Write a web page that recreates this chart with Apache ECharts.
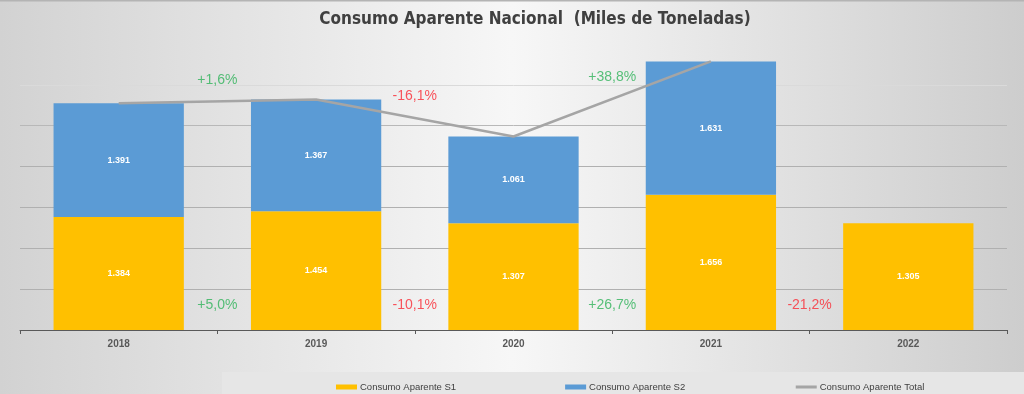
<!DOCTYPE html>
<html>
<head>
<meta charset="utf-8">
<script src="https://cdn.jsdelivr.net/npm/echarts@6/dist/echarts.min.js"></script>
<style>html,body{margin:0;padding:0;}#c{width:1024px;height:394px;}</style>
</head>
<body>
<div id="c"></div>
<script>
const categories = ['2018', '2019', '2020', '2021', '2022'];
const consumoS1 = [1384, 1454, 1307, 1656, 1305];
const consumoS2 = [1391, 1367, 1061, 1631, null];
const consumoTotal = [2776, 2821, 2368, 3287, null];
const growthTotalLabels = ['+1,6%', '-16,1%', '+38,8%'];
const growthS1Labels = ['+5,0%', '-10,1%', '+26,7%', '-21,2%'];

const fmt = v => (v == null ? '' : v.toLocaleString('de-DE'));
const GREEN = '#2fb35a', RED = '#fa2a35';
const colorFor = s => (s.charAt(0) === '-' ? RED : GREEN);

// annotation placement (between categories, in data units)
const topLevels = [3060, 2860, 3100];
const topAnno = growthTotalLabels.map((t, i) => ({ value: [i + 1, topLevels[i]], label: { color: colorFor(t), formatter: t } }));
const botAnno = growthS1Labels.map((t, i) => ({ value: [i + 1, 300], label: { color: colorFor(t), formatter: t } }));

const chart = echarts.init(document.getElementById('c'), null, { renderer: 'canvas' });
const option = {
  animation: false,
  backgroundColor: {
    type: 'linear', x: 0, y: 0, x2: 1, y2: 0,
    colorStops: [{ offset: 0, color: '#d2d2d2' }, { offset: 0.5, color: '#f7f7f7' }, { offset: 1, color: '#cdcdcd' }]
  },
  graphic: [
    { type: 'rect', z: -10, shape: { x: 222, y: 372, width: 802, height: 22 }, style: { fill: '#e6e6e6' } },
    { type: 'rect', z: -10, shape: { x: 0, y: 0, width: 1024, height: 1.5 }, style: { fill: '#b4b4b4' } }
  ],
  title: {
    text: 'Consumo Aparente Nacional  (Miles de Toneladas)',
    left: 530, top: 6, textAlign: 'center',
    textStyle: { fontFamily: '"Liberation Sans Narrow", "DejaVu Sans Condensed", sans-serif', fontWeight: 'bold', fontSize: 17, color: '#404040' }
  },
  legend: {
    left: 331, top: 377, itemGap: 109, itemWidth: 21, itemHeight: 5,
    textStyle: { fontFamily: '"Liberation Sans", sans-serif', fontSize: 9.5, color: '#404040', padding: [0, 0, 0, -2] },
    data: [
      { name: 'Consumo Aparente S1', icon: 'rect' },
      { name: 'Consumo Aparente S2', icon: 'rect' },
      { name: 'Consumo Aparente Total', itemStyle: { opacity: 0 }, lineStyle: { color: '#a5a5a5', width: 3 } }
    ]
  },
  grid: { left: 20, right: 17, top: 44, bottom: 64, containLabel: false },
  xAxis: [
    {
      type: 'category', data: categories, boundaryGap: true,
      axisLine: { lineStyle: { color: '#595959', width: 1 } },
      axisTick: { show: true, length: 4, lineStyle: { color: '#595959' } },
      axisLabel: { margin: 9, fontFamily: '"Liberation Sans", sans-serif', fontWeight: 'bold', fontSize: 10, color: '#595959' }
    },
    { type: 'value', min: 0, max: 5, show: false }
  ],
  yAxis: {
    type: 'value', min: 0, max: 3500, interval: 500,
    axisLabel: { show: false }, axisLine: { show: false }, axisTick: { show: false },
    splitLine: { lineStyle: { color: ['#b0b0b0', '#b0b0b0', '#b0b0b0', '#b0b0b0', '#b0b0b0', '#b8b8b8', '#dadada', 'rgba(0,0,0,0)'], width: 1 } }
  },
  series: [
    {
      name: 'Consumo Aparente S1', type: 'bar', stack: 'c', data: consumoS1, barWidth: '66%',
      itemStyle: { color: '#ffc000' },
      label: { show: true, position: 'inside', color: '#ffffff', fontWeight: 'bold', fontSize: 9, fontFamily: '"Liberation Sans", sans-serif', formatter: p => fmt(p.value) }
    },
    {
      name: 'Consumo Aparente S2', type: 'bar', stack: 'c', data: consumoS2, barWidth: '66%',
      itemStyle: { color: '#5b9bd5' },
      label: { show: true, position: 'inside', color: '#ffffff', fontWeight: 'bold', fontSize: 9, fontFamily: '"Liberation Sans", sans-serif', formatter: p => fmt(p.value) }
    },
    {
      name: 'Consumo Aparente Total', type: 'line', data: consumoTotal, symbol: 'none', showSymbol: false, connectNulls: false,
      lineStyle: { color: '#a5a5a5', width: 2.5 }, itemStyle: { color: '#a5a5a5' }, z: 5,
      label: { show: true, position: 'top', distance: 8, color: '#ffffff', fontWeight: 'bold', fontSize: 9, fontFamily: '"Liberation Sans", sans-serif', formatter: p => fmt(p.value) }
    },
    {
      type: 'scatter', xAxisIndex: 1, symbolSize: 0, silent: true, z: 10,
      data: topAnno.concat(botAnno),
      label: { show: true, position: 'inside', fontSize: 14, fontFamily: '"Liberation Sans", sans-serif' }
    }
  ]
};
chart.setOption(option);
</script>
</body>
</html>
